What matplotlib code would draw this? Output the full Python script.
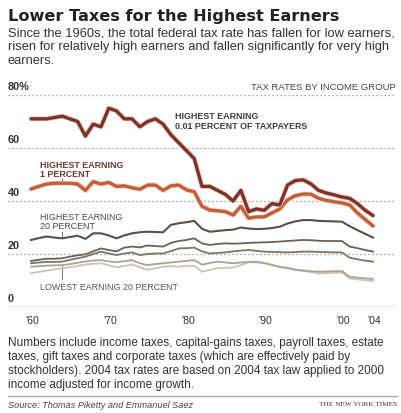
import matplotlib
matplotlib.use("Agg")
import matplotlib.pyplot as plt

# --- data (percent of income paid in federal taxes) ---
years = list(range(1960, 2005))

top_001 = [71, 71, 71, 71.5, 72, 71, 70, 64.5, 69, 68,
           75, 74, 71, 71, 68, 70, 71, 69, 65, 62,
           59, 56, 45.5, 45.5, 44, 42.5, 40, 44, 36, 37,
           36.5, 39, 38.5, 46, 47.7, 48, 46.5, 44, 43, 42.3,
           41.5, 41, 39, 36.5, 34.5]

top_1 = [44.5, 45.5, 46.4, 46.7, 46.7, 46.7, 46.4, 44, 47.3, 46.4,
         47, 45.5, 45.7, 45, 44.4, 46, 46, 44, 45.7, 46,
         44.2, 43.5, 38, 36.6, 36.3, 36, 34.7, 38, 33.5, 34,
         34, 35.5, 37, 40.4, 42, 42.6, 42.6, 41, 40.2, 39.7,
         39.3, 38.5, 35.5, 33, 30.6]

top_20 = [25.3, 26, 26.6, 26.2, 25.9, 26.4, 26.9, 25.7, 27.8, 27.8,
          27, 25.9, 27, 27.8, 28.2, 28.4, 28.3, 28.2, 31, 31.6,
          32, 32.5, 29.5, 28.4, 28.7, 29, 29.2, 30, 29.6, 29.4,
          29.5, 29.8, 30.3, 31.5, 32.3, 32.8, 32.8, 32.5, 32.4, 32.3,
          32.2, 30.5, 29, 27.6, 26.2]

fourth_20 = [17.4, 17.8, 18.2, 18.2, 18.4, 19, 19.5, 19.9, 21, 22.1,
             21.5, 21, 22.4, 22.8, 22.5, 23.2, 23, 22.8, 24.2, 24.9,
             25.3, 25.9, 24, 23.4, 23.8, 24, 23.9, 24, 24.2, 24.3,
             24.4, 24.5, 24.7, 24.9, 25.1, 25.3, 25.2, 25, 24.9, 24.9,
             24.9, 22.8, 22.2, 21.5, 20.9]

middle_20 = [16.5, 16.8, 17, 17, 17.1, 17.8, 18.4, 19, 20, 20.9,
             20.2, 19.6, 20.2, 20.6, 19.6, 20, 20.2, 20.2, 21.1, 22.1,
             22.2, 22.4, 21, 20.2, 20.4, 20.6, 21, 21.3, 21.5, 21.2,
             20.9, 20.8, 20.7, 20.6, 20.7, 20.9, 20.9, 20.8, 20.7, 20.6,
             20.6, 18.6, 18, 17.5, 17.1]

second_20 = [15.2, 15.4, 15.6, 15.7, 15.8, 16.2, 16.7, 17.2, 17.5, 17.7,
             17.2, 16.9, 17.3, 17.7, 16.5, 15.8, 16.2, 16.5, 16.8, 17.1,
             17.4, 17.7, 16, 16.6, 17.1, 16.8, 16.5, 16.8, 17, 17.1,
             16.6, 15.9, 15.2, 14.8, 14.1, 13.8, 13.5, 13.3, 13.4, 13.5,
             13.6, 11.4, 11.1, 10.8, 10.6]

bottom_20 = [12.7, 13.2, 13.7, 14.2, 14.6, 15, 15.5, 16, 16.3, 16.5,
             15.8, 15, 15.5, 16, 15, 14, 14.6, 15.2, 15.4, 15.2,
             15.5, 15.6, 13.3, 14, 14.6, 14.8, 14.9, 15.8, 16.9, 16.8,
             16.5, 15.8, 15, 14.6, 14, 13.6, 13.2, 12.7, 12.8, 12.9,
             13, 10.8, 10.4, 10.1, 9.8]

y_ticks = [0, 20, 40, 60, 80]
y_labels = ["0", "20", "40", "60", "80%"]
x_ticks = [1960, 1970, 1980, 1990, 2000, 2004]
x_labels = ["'60", "'70", "'80", "'90", "'00", "'04"]

W, H = 401, 413
fig = plt.figure(figsize=(W / 100, H / 100), dpi=100)
fig.patch.set_facecolor("white")

sans = ["Liberation Sans", "DejaVu Sans"]

def fx(px):
    return px / W

def fy(py):
    return 1 - py / H

# headline block
fig.text(fx(8), fy(16), "Lower Taxes for the Highest Earners", family="DejaVu Sans",
         fontweight="heavy", fontsize=11.6, color="#222222", va="center", ha="left")
fig.text(fx(8), fy(47), "Since the 1960s, the total federal tax rate has fallen for low earners,\n"
         "risen for relatively high earners and fallen significantly for very high\n"
         "earners.", family=sans, fontsize=9.3, color="#333333", va="center", ha="left",
         linespacing=1.2)

# plot area: 0 at y=307px, 80 at y=95px, 1960 at x=31px, 2004 at x=373px
ax = fig.add_axes([fx(8), fy(307), fx(396) - fx(8), fy(95) - fy(307)])
px_per_year = (373 - 31) / 44
ax.set_xlim(1960 - 23 / px_per_year, 2004 + 23 / px_per_year)
ax.set_ylim(0, 80)
ax.axis("off")

for v in y_ticks[1:]:
    ax.axhline(v, color="#8c8c8c", lw=0.9, ls=(0, (1, 2.2)), zorder=1)
ax.axhline(0, color="#9a9a9a", lw=1.0, zorder=1)

for v, lab in zip(y_ticks, y_labels):
    ax.annotate(lab, (0, v), xycoords=("axes fraction", "data"), xytext=(0, 2.5),
                textcoords="offset points", ha="left", va="bottom",
                family=sans, fontsize=7.8, fontweight="bold", color="#333333")

for x, lab in zip(x_ticks, x_labels):
    ax.annotate(lab, (x, 0), xycoords="data", xytext=(1, -6.5), textcoords="offset points",
                ha="center", va="top", family=sans, fontsize=7.6, color="#333333")

ax.text(2006.9, 81.3, "TAX RATES BY INCOME GROUP", ha="right", va="bottom",
        family=sans, fontsize=6.8, color="#444444")

# lines, drawn from the faintest up
ax.plot(years, bottom_20, color="#cbc3b3", lw=1.3, zorder=3)
ax.plot(years, second_20, color="#aca293", lw=1.3, zorder=3)
ax.plot(years, middle_20, color="#7f7367", lw=1.3, zorder=3)
ax.plot(years, fourth_20, color="#6b6056", lw=1.3, zorder=3)
ax.plot(years, top_20, color="#5a5047", lw=1.5, zorder=3)
ax.plot(years, top_1, color="#f1d7c8", lw=3.6, zorder=4, solid_capstyle="round")
ax.plot(years, top_1, color="#c3603b", lw=2.4, zorder=4, solid_capstyle="round")
ax.plot(years, top_001, color="#e6cfc8", lw=3.6, zorder=5, solid_capstyle="round")
ax.plot(years, top_001, color="#7f3327", lw=2.4, zorder=5, solid_capstyle="round")

# labels
lab_kw = dict(family=sans, fontsize=6.4, fontweight="bold", color="#3d3d3d",
              ha="left", va="bottom", linespacing=1.05)
ax.text(1978.5, 66.5, "HIGHEST EARNING\n0.01 PERCENT OF TAXPAYERS", **lab_kw)
ax.text(1961.1, 48.3, "HIGHEST EARNING\n1 PERCENT", **dict(lab_kw, color="#6a3a30"))
ax.text(1961.1, 28.5, "HIGHEST EARNING\n20 PERCENT", **dict(lab_kw, fontweight="normal",
                                                             color="#4a4a4a"))
ax.text(1961.1, 5.5, "LOWEST EARNING 20 PERCENT", **dict(lab_kw, fontweight="normal",
                                                          color="#555555"))
ax.plot([1964, 1964], [46.7, 48.3], color="#7a6a60", lw=0.8, zorder=2)
ax.plot([1964, 1964], [25.9, 28.4], color="#7a7a7a", lw=0.8, zorder=2)
ax.plot([1964, 1964], [10.5, 15.5], color="#8a8a8a", lw=0.8, zorder=2)

# footnote
fig.text(fx(8), fy(364), "Numbers include income taxes, capital-gains taxes, payroll taxes, estate\n"
         "taxes, gift taxes and corporate taxes (which are effectively paid by\n"
         "stockholders). 2004 tax rates are based on 2004 tax law applied to 2000\n"
         "income adjusted for income growth.", family=sans, fontsize=8.5,
         color="#333333", va="center", ha="left", linespacing=1.2)
fig.add_artist(plt.Line2D([fx(8), fx(397)], [fy(396), fy(396)], color="#aaaaaa", lw=1.0))
fig.text(fx(8), fy(405), "Source: Thomas Piketty and Emmanuel Saez", family=sans,
         fontsize=6.6, style="italic", color="#444444", va="center", ha="left")
fig.text(fx(397), fy(405), "THE NEW YORK TIMES", family="Liberation Serif",
         fontsize=5.2, color="#333333", va="center", ha="right")

fig.savefig("out.png", dpi=100)
